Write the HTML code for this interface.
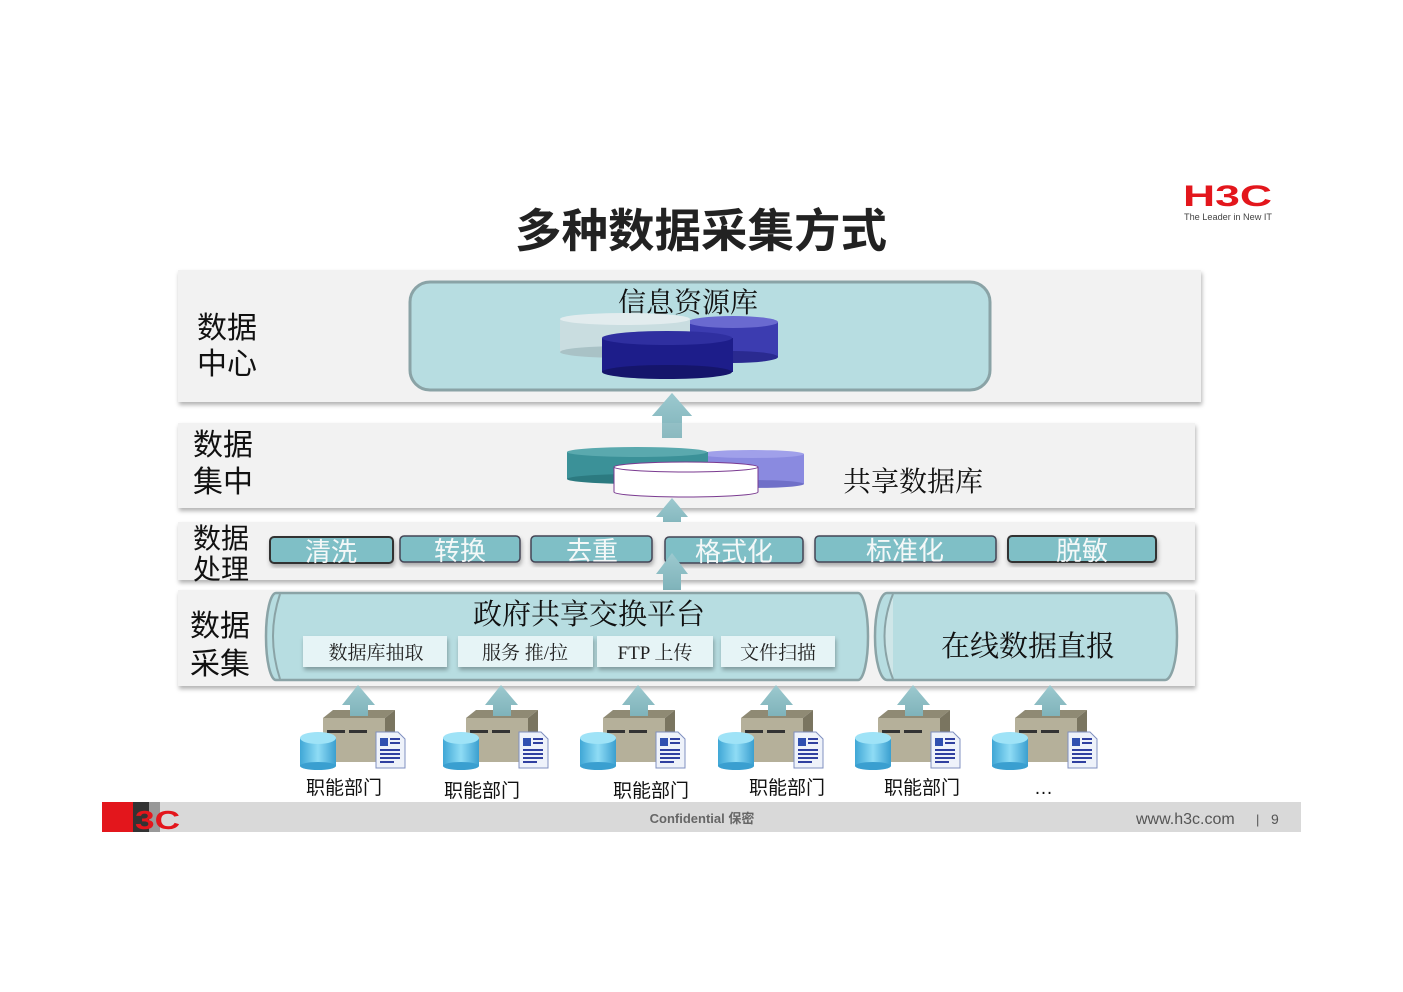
<!DOCTYPE html>
<html><head><meta charset="utf-8"><style>
html,body{margin:0;padding:0;background:#fff;}
svg{display:block;font-family:"Liberation Sans","Noto Sans CJK SC",sans-serif;}
.serif{font-family:"Liberation Serif","Noto Serif CJK SC",serif;}
</style></head><body>
<svg width="1403" height="992" viewBox="0 0 1403 992" xmlns="http://www.w3.org/2000/svg">
<defs>
<linearGradient id="arr" x1="0" y1="0" x2="0" y2="1"><stop offset="0" stop-color="#9cc9cf"/><stop offset="1" stop-color="#7fb3ba"/></linearGradient>
<linearGradient id="cyl" x1="0" y1="0" x2="1" y2="0"><stop offset="0" stop-color="#3fa7d6"/><stop offset="0.5" stop-color="#8fdcf5"/><stop offset="1" stop-color="#3a9fd0"/></linearGradient>
<filter id="sh" x="-5%" y="-10%" width="110%" height="130%"><feDropShadow dx="1" dy="3" stdDeviation="2" flood-color="#000" flood-opacity="0.3"/></filter>
<g id="uparrow"><path d="M-16 22 L0 3 L16 22 L9 22 L9 35 L-9 35 L-9 22 Z" fill="url(#arr)"/></g>
<g id="icon">
  <path d="M323 718 L333 710 L395 710 L385 718 Z" fill="#8f8a74"/>
  <path d="M385 718 L395 710 L395 755 L385 762 Z" fill="#7a7560"/>
  <rect x="323" y="718" width="62" height="44" fill="#b5b09a"/>
  <rect x="327" y="730" width="18" height="3" fill="#333"/><rect x="349" y="730" width="18" height="3" fill="#333"/>
  <path d="M342 705 L358 685 L375 705 L368 705 L368 716 L350 716 L350 705 Z" fill="url(#arr)"/>
  <rect x="300" y="738" width="36" height="28" fill="url(#cyl)"/>
  <ellipse cx="318" cy="766" rx="18" ry="4" fill="#3a9fd0"/>
  <ellipse cx="318" cy="738" rx="18" ry="6" fill="#9fe3f7"/>
  <path d="M376 732 L398 732 L405 739 L405 768 L376 768 Z" fill="#eef2fa" stroke="#8090c0"/>
  <rect x="380" y="738" width="8" height="8" fill="#3050b0"/>
  <rect x="390" y="738" width="10" height="2" fill="#3040a0"/><rect x="390" y="742" width="10" height="2" fill="#3040a0"/>
  <rect x="380" y="749" width="20" height="2" fill="#3040a0"/><rect x="380" y="753" width="20" height="2" fill="#3040a0"/><rect x="380" y="757" width="20" height="2" fill="#3040a0"/><rect x="380" y="761" width="14" height="2" fill="#3040a0"/>
</g>
</defs>

<text x="701" y="247" text-anchor="middle" font-size="46" font-weight="bold" fill="#222" textLength="372" lengthAdjust="spacingAndGlyphs">多种数据采集方式</text>
<text x="1183" y="206" font-size="30" font-weight="bold" fill="#e3161c" textLength="89" lengthAdjust="spacingAndGlyphs">H3C</text>
<text x="1184" y="220" font-size="9" fill="#444" textLength="88" lengthAdjust="spacingAndGlyphs">The Leader in New IT</text>

<rect x="178" y="270" width="1023" height="132" fill="#f2f2f2" filter="url(#sh)"/>
<text x="197" y="338" font-size="30" fill="#111">数据</text>
<text x="197" y="374" font-size="30" fill="#111">中心</text>
<rect x="410" y="282" width="580" height="108" rx="20" fill="#b7dde1" stroke="#8aa3a6" stroke-width="3"/>
<text class="serif" x="688" y="312" text-anchor="middle" font-size="28" fill="#111">信息资源库</text>
<rect x="688" y="322" width="90" height="35" fill="#3c3cb0"/><ellipse cx="733" cy="357" rx="45" ry="6" fill="#2a2a90"/><ellipse cx="733" cy="322" rx="45" ry="6" fill="#6a6ad0"/>
<rect x="560" y="319" width="130" height="33" fill="#c9dde0"/><ellipse cx="625" cy="352" rx="65" ry="6" fill="#a9c2c6"/><ellipse cx="625" cy="319" rx="65" ry="6" fill="#e2ecee"/>
<rect x="602" y="338" width="131" height="34" fill="#1d1d8a"/><ellipse cx="667" cy="372" rx="65" ry="7" fill="#15156b"/><ellipse cx="667" cy="338" rx="65" ry="7" fill="#2f2fa0"/>

<path d="M652 416 L672 393 L692 416 L682 416 L682 438 L662 438 L662 416 Z" fill="url(#arr)"/>

<rect x="178" y="423" width="1017" height="85" fill="#f2f2f2" filter="url(#sh)"/>
<path d="M652 416 L672 393 L692 416 L682 416 L682 438 L662 438 L662 416 Z" fill="url(#arr)" opacity="0.9"/>
<text x="193" y="455" font-size="30" fill="#111">数据</text>
<text x="193" y="492" font-size="30" fill="#111">集中</text>
<text class="serif" x="843" y="491" font-size="28" fill="#111">共享数据库</text>
<rect x="700" y="454" width="104" height="30" fill="#8a8ae0"/><ellipse cx="752" cy="484" rx="52" ry="4" fill="#7070c8"/><ellipse cx="752" cy="454" rx="52" ry="4" fill="#a0a0ea"/>
<rect x="567" y="452" width="141" height="27" fill="#3b9198"/><ellipse cx="637" cy="479" rx="70" ry="5" fill="#2c7a80"/><ellipse cx="637" cy="452" rx="70" ry="5" fill="#5aa9ae"/>
<ellipse cx="686" cy="492" rx="72" ry="5" fill="#fff" stroke="#7a3a90"/><rect x="614" y="467" width="144" height="25" fill="#fff"/>
<line x1="614" y1="467" x2="614" y2="492" stroke="#7a3a90"/><line x1="758" y1="467" x2="758" y2="492" stroke="#7a3a90"/>
<ellipse cx="686" cy="467" rx="72" ry="5" fill="#fff" stroke="#7a3a90"/>
<use href="#uparrow" x="672" y="495"/>

<rect x="178" y="522" width="1017" height="58" fill="#f2f2f2" filter="url(#sh)"/>
<text x="193" y="548" font-size="28" fill="#111">数据</text>
<text x="193" y="579" font-size="28" fill="#111">处理</text>
<g font-size="26" fill="#f4f8f8" text-anchor="middle">
<rect x="270" y="537" width="123" height="26" rx="4" fill="#7fbfc6" stroke="#333" stroke-width="2" filter="url(#sh)"/><text x="331" y="561">清洗</text>
<rect x="400" y="536" width="120" height="26" rx="4" fill="#7fbfc6" stroke="#445" stroke-width="1.5" filter="url(#sh)"/><text x="460" y="560">转换</text>
<rect x="531" y="536" width="121" height="26" rx="4" fill="#7fbfc6" stroke="#445" stroke-width="1.5" filter="url(#sh)"/><text x="592" y="560">去重</text>
<rect x="665" y="537" width="138" height="26" rx="4" fill="#7fbfc6" stroke="#445" stroke-width="1.5" filter="url(#sh)"/><text x="734" y="561">格式化</text>
<rect x="815" y="536" width="181" height="26" rx="4" fill="#7fbfc6" stroke="#445" stroke-width="1.5" filter="url(#sh)"/><text x="905" y="560">标准化</text>
<rect x="1008" y="536" width="148" height="26" rx="4" fill="#7fbfc6" stroke="#333" stroke-width="2" filter="url(#sh)"/><text x="1082" y="560">脱敏</text>
</g>
<path d="M656 574 L672 553 L688 574 L681 574 L681 590 L663 590 L663 574 Z" fill="url(#arr)"/>

<rect x="178" y="590" width="1017" height="96" fill="#f2f2f2" filter="url(#sh)"/>
<text x="190" y="636" font-size="30" fill="#111">数据</text>
<text x="190" y="674" font-size="30" fill="#111">采集</text>
<rect x="266" y="593" width="602" height="87" rx="10" ry="43" fill="#b7dde1" stroke="#8aa3a6" stroke-width="2.5"/>
<path d="M280 594 Q266 636 280 679" fill="none" stroke="#8aa3a6" stroke-width="2"/>
<rect x="875" y="593" width="302" height="87" rx="12" ry="43" fill="#b7dde1" stroke="#8aa3a6" stroke-width="2.5"/>
<path d="M893 594 Q876 636 893 679" fill="#cfe6e8" stroke="#8aa3a6" stroke-width="2"/>
<text class="serif" x="589" y="624" text-anchor="middle" font-size="29" fill="#111">政府共享交换平台</text>
<text class="serif" x="1028" y="656" text-anchor="middle" font-size="29" fill="#111">在线数据直报</text>
<g font-size="19" fill="#222" text-anchor="middle" class="serif">
<rect x="303" y="636" width="144" height="31" fill="#e6f4f6" filter="url(#sh)"/><text x="376" y="659">数据库抽取</text>
<rect x="458" y="636" width="135" height="31" fill="#e6f4f6" filter="url(#sh)"/><text x="525" y="659">服务 推/拉</text>
<rect x="597" y="636" width="116" height="31" fill="#e6f4f6" filter="url(#sh)"/><text x="655" y="659">FTP 上传</text>
<rect x="721" y="636" width="114" height="31" fill="#e6f4f6" filter="url(#sh)"/><text x="778" y="659">文件扫描</text>
</g>

<use href="#icon"/>
<use href="#icon" x="143"/>
<use href="#icon" x="280"/>
<use href="#icon" x="418"/>
<use href="#icon" x="555"/>
<use href="#icon" x="692"/>
<g font-size="19" fill="#111">
<text x="306" y="794">职能部门</text>
<text x="444" y="797">职能部门</text>
<text x="613" y="797">职能部门</text>
<text x="749" y="794">职能部门</text>
<text x="884" y="794">职能部门</text>
<text x="1034" y="794">…</text>
</g>

<rect x="102" y="802" width="1199" height="30" fill="#d9d9d9"/>
<rect x="102" y="802" width="31" height="30" fill="#e3161c"/>
<rect x="133" y="802" width="16" height="30" fill="#333"/>
<rect x="149" y="802" width="11" height="30" fill="#999"/>
<text x="135" y="829" font-size="26" font-weight="bold" fill="#e3161c" textLength="45" lengthAdjust="spacingAndGlyphs">3C</text>
<text x="702" y="823" text-anchor="middle" font-size="13" font-weight="bold" fill="#666">Confidential  保密</text>
<text x="1136" y="824" font-size="16" fill="#555">www.h3c.com</text>
<text x="1256" y="824" font-size="13" fill="#555">|</text>
<text x="1271" y="824" font-size="14" fill="#555">9</text>
</svg>
</body></html>
